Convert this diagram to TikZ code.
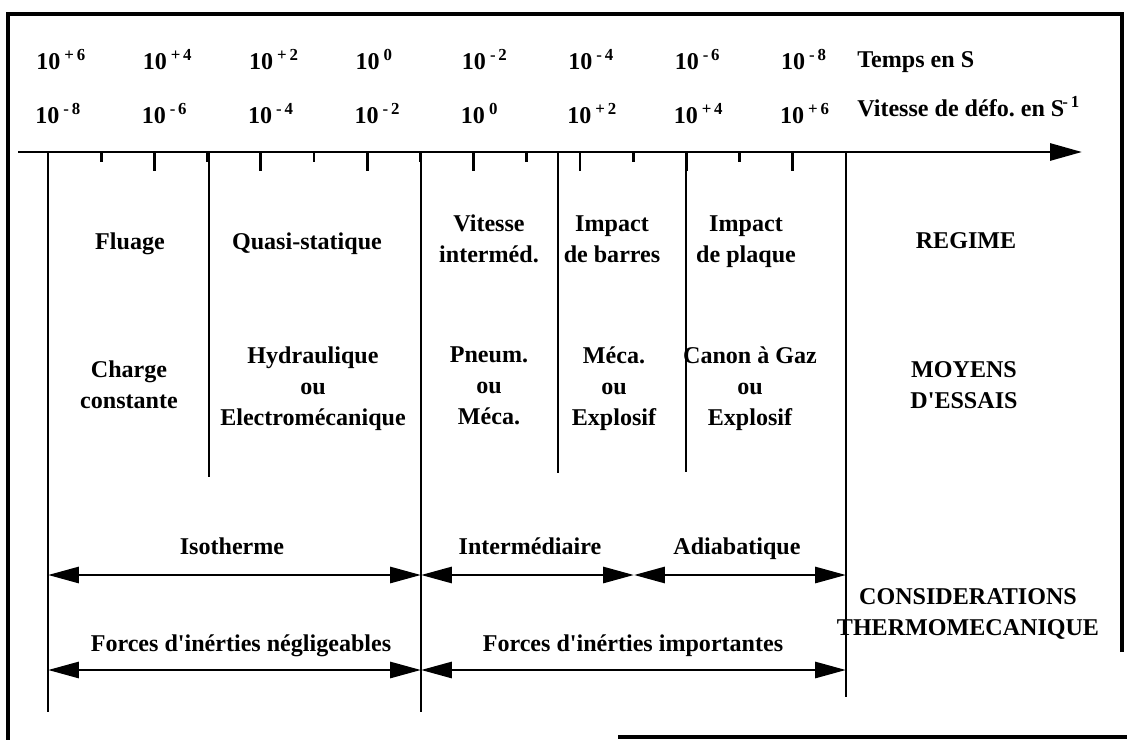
\documentclass[tikz,border=0pt]{standalone}
\usepackage{fontspec}
\setmainfont{Liberation Serif}
\usetikzlibrary{arrows.meta}

\tikzset{
  lbl/.style={font=\bfseries\fontsize{13.7}{17.6}\selectfont, align=center, inner sep=0pt, text depth=0.25em},
  num/.style={lbl, anchor=base west},
  sep/.style={line width=1.7pt},
  tip/.style={line width=1.7pt, -{Triangle[length=0.64cm,width=0.34cm]}},
  dbl/.style={line width=1.7pt, {Triangle[length=0.62cm,width=0.32cm]}-{Triangle[length=0.62cm,width=0.32cm]}}
}

\begin{document}
\frenchspacing
\begin{tikzpicture}[x=0.02cm,y=-0.02cm]
          \useasboundingbox (0,0) rectangle (1127,740);
          \draw[line width=2.6pt] (1122,652) -- (1122,14) -- (8,14) -- (8,740);
          \draw[line width=2.2pt] (618,737) -- (1127,737);

          \coordinate (ax0) at (18,152);
          \coordinate (ax1) at (1082,152);
          \draw[tip] (ax0) -- (ax1);
          \foreach \i in {1,...,14}{
            \pgfmathsetmacro\tl{mod(\i,2)==1 ? 10 : 19}
            \draw[sep] (48+53.2*\i,152) -- ++(0,\tl);
          }

          \foreach \n/\x/\b in {a/48/712, b/209/477, c/421/712, d/558/473, e/686/472, f/846/697}{
            \coordinate (\n top) at (\x,152);
            \coordinate (\n bot) at (\x,\b);
            \draw[sep] (\n top) -- (\n bot);
          }

          \foreach \e [count=\k from 0] in {+\,6,+\,4,+\,2,0,-\,2,-\,4,-\,6,-\,8}
            \node[num] (t\k) at (36+106.4*\k,70) {10\,\textsuperscript{\e}};
          \foreach \e [count=\k from 0] in {-\,8,-\,6,-\,4,-\,2,0,+\,2,+\,4,+\,6}
            \node[num] (v\k) at (35+106.4*\k,124) {10\,\textsuperscript{\e}};
          \node[num] (temps) at (857,68) {Temps en S};
          \node[num] (vitesse) at (857,117) {Vitesse de défo. en S\textsuperscript{\kern-0.12em-\,1}};

          \node[lbl] (fluage) at (130,243) {Fluage};
          \node[lbl] (quasi) at (307,243) {Quasi-statique};
          \node[lbl] (vitint) at (489,241) {Vitesse\\interméd.};
          \node[lbl] (impbar) at (612,241) {Impact\\de barres};
          \node[lbl] (impplq) at (746,241) {Impact\\de plaque};
          \node[lbl] (regime) at (966,243) {REGIME};

          \node[lbl] (charge) at (129,387) {Charge\\constante};
          \node[lbl] (hydrau) at (313,388) {Hydraulique\\ou\\Electromécanique};
          \node[lbl] (pneum) at (489,388) {Pneum.\\ou\\Méca.};
          \node[lbl] (meca) at (614,388) {Méca.\\ou\\Explosif};
          \node[lbl] (canon) at (750,388) {Canon à Gaz\\ou\\Explosif};
          \node[lbl] (moyens) at (964,387) {MOYENS\\D\textquotesingle ESSAIS};

          \node[lbl] (isoth) at (232,548) {Isotherme};
          \node[lbl] (interm) at (530,548) {Intermédiaire};
          \node[lbl] (adiab) at (737,548) {Adiabatique};
          \node[lbl] (fneg) at (241,645) {Forces d\textquotesingle inérties négligeables};
          \node[lbl] (fimp) at (633,645) {Forces d\textquotesingle inérties importantes};
          \node[lbl] (consid) at (968,614) {CONSIDERATIONS\\THERMOMECANIQUE};

          \coordinate (r1a) at (48,575);
          \coordinate (r1b) at (421,575);
          \coordinate (r1c) at (634,575);
          \coordinate (r1d) at (846,575);
          \coordinate (r2a) at (48,670);
          \coordinate (r2b) at (421,670);
          \coordinate (r2c) at (846,670);
          \draw[dbl] (r1a) -- (r1b);
          \draw[dbl] (r1b) -- (r1c);
          \draw[dbl] (r1c) -- (r1d);
          \draw[dbl] (r2a) -- (r2b);
          \draw[dbl] (r2b) -- (r2c);
        \end{tikzpicture}
\end{document}
